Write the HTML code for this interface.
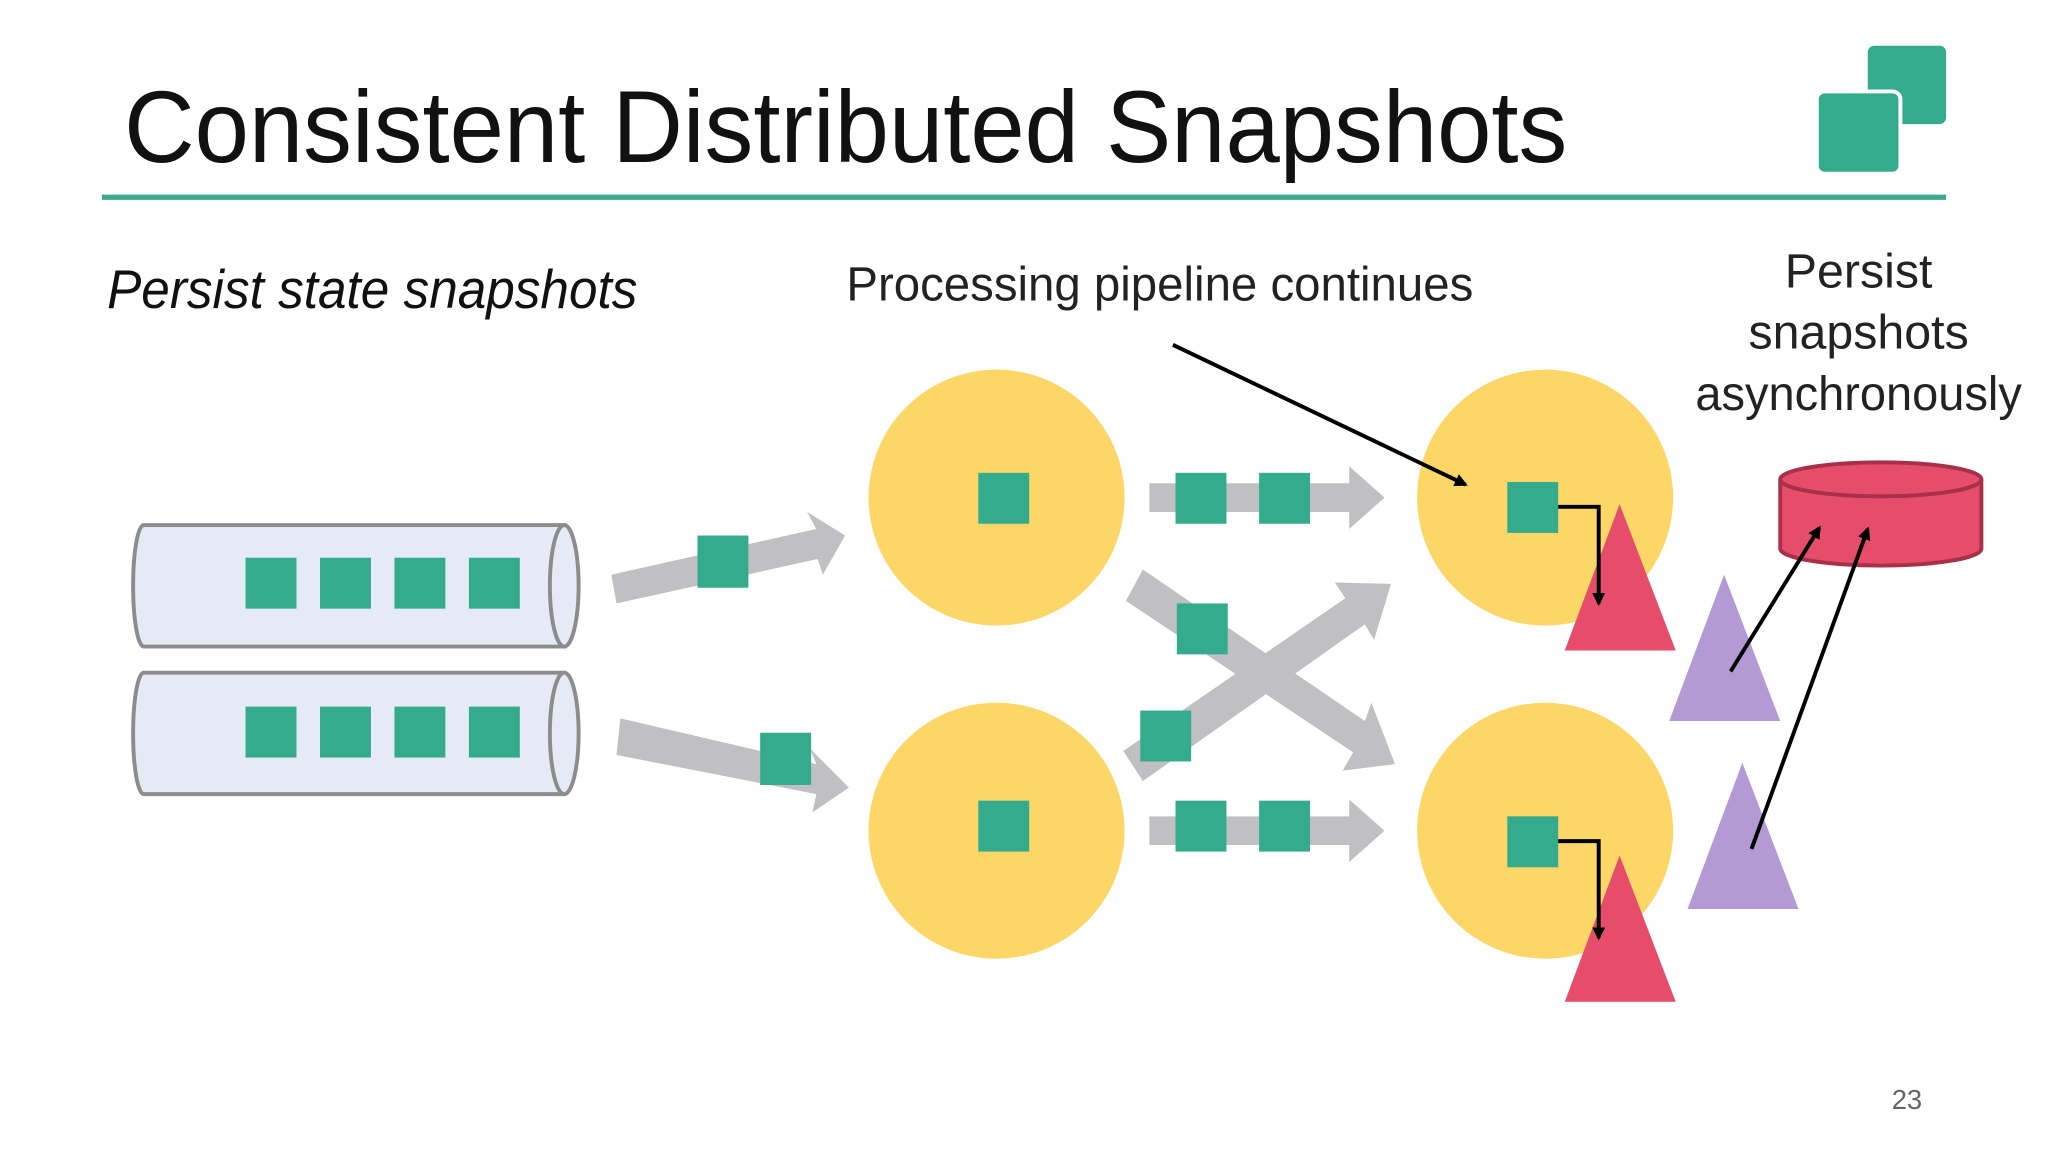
<!DOCTYPE html>
<html><head><meta charset="utf-8"><style>
html,body{margin:0;padding:0;background:#fff;}
svg{display:block;}
text{font-family:"Liberation Sans",sans-serif;}
</style></head><body>
<svg width="2048" height="1152" viewBox="0 0 1568 882" xmlns="http://www.w3.org/2000/svg">
<defs>
<marker id="ah" markerWidth="10" markerHeight="10" refX="8" refY="5" orient="auto" markerUnits="userSpaceOnUse">
<path d="M0,0 L10,5 L0,10 z" fill="#000"/></marker>
</defs>
<rect width="1568" height="882" fill="#fff"/>
<text x="95" y="124" font-size="78" fill="#111" textLength="1105" lengthAdjust="spacingAndGlyphs">Consistent Distributed Snapshots</text>
<line x1="78" y1="151" x2="1490" y2="151" stroke="#3aa98d" stroke-width="4"/>
<rect x="1429" y="34" width="62" height="62" rx="6" fill="#35ab8e" stroke="#fff" stroke-width="2"/>
<rect x="1391" y="70" width="64" height="63" rx="6" fill="#35ab8e" stroke="#fff" stroke-width="3"/>
<text x="82" y="236" font-size="42" font-style="italic" fill="#111" textLength="406" lengthAdjust="spacingAndGlyphs">Persist state snapshots</text>
<text x="648" y="230" font-size="37" fill="#222" textLength="480" lengthAdjust="spacingAndGlyphs">Processing pipeline continues</text>
<text x="1423" y="220" font-size="37" fill="#222" text-anchor="middle">Persist</text>
<text x="1423" y="267" font-size="37" fill="#222" text-anchor="middle">snapshots</text>
<text x="1423" y="314" font-size="37" fill="#222" text-anchor="middle" textLength="250" lengthAdjust="spacingAndGlyphs">asynchronously</text>
<!-- pipes -->
<g fill="#e5eaf5" stroke="#8c8c8c" stroke-width="3">
<path d="M110,402 H432 V495 H110 A8,46 0 0 1 110,402 z"/>
<ellipse cx="432" cy="448.5" rx="11" ry="46.5"/>
<path d="M110,515 H432 V608 H110 A8,46 0 0 1 110,515 z"/>
<ellipse cx="432" cy="561.5" rx="11" ry="46.5"/>
</g>
<g fill="#35ab8e">
<rect x="188" y="427" width="39" height="39"/><rect x="245" y="427" width="39" height="39"/><rect x="302" y="427" width="39" height="39"/><rect x="359" y="427" width="39" height="39"/>
<rect x="188" y="541" width="39" height="39"/><rect x="245" y="541" width="39" height="39"/><rect x="302" y="541" width="39" height="39"/><rect x="359" y="541" width="39" height="39"/>
</g>
<!-- gray arrows -->
<g fill="#c0c0c2">
<polygon points="468,440 625,405 618,392 647,410 630,440 626,428 472,462"/>
<polygon points="475,550 625,585 620,573 650,603 622,622 625,608 472,578"/>
<polygon points="880,370 1033,370 1033,357 1060,381 1033,405 1033,392 880,392"/>
<polygon points="880,625 1033,625 1033,612 1060,636 1033,660 1033,647 880,647"/>
<polygon points="875,436 1045,552 1050,538 1068,585 1028,590 1036,576 862,460"/>
<polygon points="860,575 1030,458 1022,446 1065,447 1052,490 1045,478 875,598"/>
</g>
<g fill="#35ab8e">
<rect x="534" y="410" width="39" height="40"/>
<rect x="582" y="561" width="39" height="40"/>
<rect x="900" y="362" width="39" height="39"/><rect x="964" y="362" width="39" height="39"/>
<rect x="900" y="613" width="39" height="39"/><rect x="964" y="613" width="39" height="39"/>
<rect x="901" y="462" width="39" height="39"/>
<rect x="873" y="544" width="39" height="39"/>
</g>
<g fill="#fdd668">
<circle cx="763" cy="381" r="98"/><circle cx="763" cy="636" r="98"/>
<circle cx="1183" cy="381" r="98"/><circle cx="1183" cy="636" r="98"/>
</g>
<g fill="#35ab8e">
<rect x="749" y="362" width="39" height="39"/><rect x="749" y="613" width="39" height="39"/>
<rect x="1154" y="369" width="39" height="39"/><rect x="1154" y="625" width="39" height="39"/>
</g>
<g fill="#e64d6a">
<polygon points="1240,386 1283,498 1198,498"/>
<polygon points="1240,655 1283,767 1198,767"/>
</g>
<g fill="#b39ad4">
<polygon points="1320,440 1363,552 1278,552"/>
<polygon points="1334,584 1377,696 1292,696"/>
</g>
<!-- db -->
<path d="M1363,367 V420 A77,13 0 0 0 1517,420 V367" fill="#e64d6a" stroke="#a83048" stroke-width="3"/>
<ellipse cx="1440" cy="367" rx="77" ry="13" fill="#e64d6a" stroke="#a83048" stroke-width="3"/>
<!-- black arrows -->
<g stroke="#000" stroke-width="3" fill="none" marker-end="url(#ah)">
<line x1="898" y1="264" x2="1122" y2="371"/>
<polyline points="1193,388 1224,388 1224,462"/>
<polyline points="1193,644 1224,644 1224,718"/>
<line x1="1325" y1="514" x2="1393" y2="404"/>
<line x1="1341" y1="650" x2="1430" y2="405"/>
</g>
<text x="1460" y="849" font-size="21" fill="#666" text-anchor="middle">23</text>
</svg>
</body></html>
